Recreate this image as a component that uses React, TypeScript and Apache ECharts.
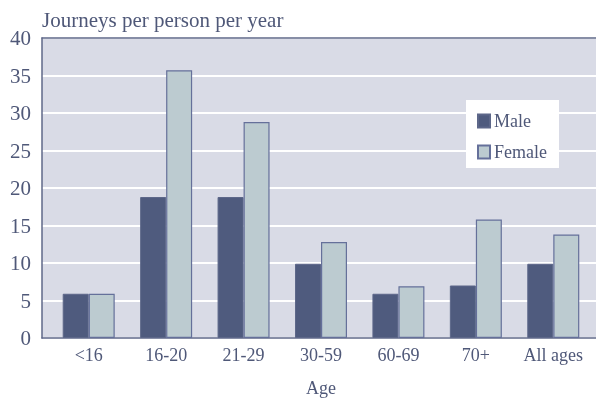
import React, { useEffect, useRef } from "react";
import * as echarts from "echarts";

const categories = ["<16", "16-20", "21-29", "30-59", "60-69", "70+", "All ages"];
const maleValues = [5.9, 18.8, 18.8, 9.9, 5.9, 7.0, 9.9];
const femaleValues = [5.9, 35.7, 28.8, 12.8, 6.9, 15.8, 13.8];
const seriesNames = ["Male", "Female"];
const yMin = 0;
const yMax = 40;
const yInterval = 5;

const TEXT = "#4f5878";
const AXIS = "#5f6889";
const FONT = "Liberation Serif";

export default function App() {
  const ref = useRef<HTMLDivElement>(null);
  useEffect(() => {
    if (!ref.current) return;
    const chart = echarts.init(ref.current, null, { renderer: "svg" });
    chart.setOption({
      animation: false,
      title: {
        text: "Journeys per person per year",
        left: 37,
        top: 4,
        textStyle: { fontFamily: FONT, fontSize: 21, fontWeight: "normal", color: TEXT },
      },
      legend: {
        orient: "vertical",
        left: 466,
        top: 100,
        padding: [12, 12, 7, 11],
        backgroundColor: "#ffffff",
        itemWidth: 12,
        itemHeight: 13,
        itemGap: 13,
        icon: "rect",
        textStyle: { fontFamily: FONT, fontSize: 18, color: TEXT, padding: [0, 0, 0, -1] },
        data: seriesNames,
      },
      grid: [
        { left: 42, right: 0, top: 38, bottom: 62, show: true, backgroundColor: "#d9dbe6", borderWidth: 0, containLabel: false, outerBoundsMode: "none" },
        { left: 50, right: 4, top: 38, bottom: 62, containLabel: false, outerBoundsMode: "none" },
      ],
      xAxis: [
        {
          gridIndex: 0, type: "value", min: 0, max: 1, position: "bottom",
          axisLine: { show: true, lineStyle: { color: AXIS, width: 1.5 } },
          axisTick: { show: false }, axisLabel: { show: false }, splitLine: { show: false },
        },
        {
          gridIndex: 1, type: "category", data: categories, position: "bottom",
          axisLine: { show: false }, axisTick: { show: false },
          axisLabel: { fontFamily: FONT, fontSize: 18, color: TEXT, margin: 8 },
          name: "Age", nameLocation: "middle", nameGap: 41, nameMoveOverlap: false,
          nameTextStyle: { fontFamily: FONT, fontSize: 18, color: TEXT },
        },
        {
          gridIndex: 0, type: "value", min: 0, max: 1, position: "top",
          axisLine: { show: true, lineStyle: { color: AXIS, width: 1.5 } },
          axisTick: { show: false }, axisLabel: { show: false }, splitLine: { show: false },
        },
      ],
      yAxis: [
        {
          gridIndex: 0, type: "value", min: yMin, max: yMax, interval: yInterval,
          axisLine: { show: true, lineStyle: { color: AXIS, width: 1.5 } },
          axisTick: { show: false },
          axisLabel: { fontFamily: FONT, fontSize: 21, color: TEXT, margin: 11 },
          splitLine: { show: true, lineStyle: { color: "#ffffff", width: 2 } },
        },
        {
          gridIndex: 1, type: "value", min: yMin, max: yMax, interval: yInterval, show: false,
          splitLine: { show: false },
        },
      ],
      series: [
        {
          name: seriesNames[0], type: "bar", xAxisIndex: 1, yAxisIndex: 1,
          data: maleValues, barWidth: 26, barGap: "0%",
          itemStyle: { color: "#4f5b7e", borderColor: "#5d6789", borderWidth: 1 },
        },
        {
          name: seriesNames[1], type: "bar", xAxisIndex: 1, yAxisIndex: 1,
          data: femaleValues, barWidth: 26, barGap: "0%",
          itemStyle: { color: "#bccbd0", borderColor: "#65709a", borderWidth: 1.2 },
        },
      ],
    });
    return () => chart.dispose();
  }, []);
  return <div ref={ref} style={{ position: "fixed", left: 0, top: 0, width: 596, height: 400 }} />;
}
